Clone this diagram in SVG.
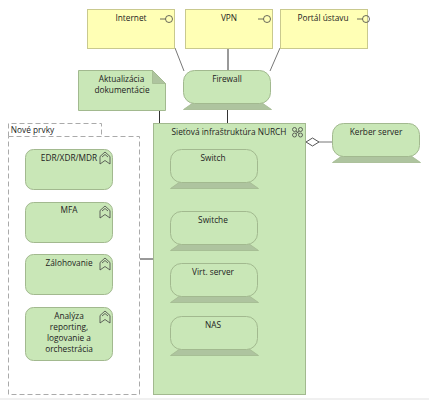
<svg xmlns="http://www.w3.org/2000/svg" width="429" height="400" viewBox="0 0 429 400">
<style>
text{font-family:"Open Sans","Noto Sans","Liberation Sans",sans-serif;font-size:8.300px;fill:#222;text-anchor:middle}
.y{fill:#ffffb5;stroke:#c9c98e;stroke-width:1}
.g{fill:#c9e7b7;stroke:#a2b98f;stroke-width:1}
.t{fill:#aec49f;stroke:#a2b98f;stroke-width:.8}
.i{fill:none;stroke:#444;stroke-width:.8}
.c{fill:none;stroke:#333;stroke-width:1}
.d{fill:none;stroke:#aaa;stroke-width:1;stroke-dasharray:5 3}
</style>
<defs>
<g id="iface"><path class="i" d="M0 0h5.500"/><circle class="i" cx="9" cy="0" r="3.500"/></g>
<g id="chev"><path class="i" d="M0 4.500L5 0L10 4.500V12L5 8.500L0 12Z"/><path class="i" d="M2 5L5 2.500L8 5"/></g>
<g id="dev"><path class="t" d="M10 32H78L88 39H0Z"/><rect class="g" x="0" y="0" width="87" height="33" rx="11"/></g>
</defs>
<rect width="429" height="400" fill="#fff"/>
<rect y="398" width="429" height="2" fill="#f0f0f0"/>
<g id="connectors">
<path d="M175 48L184 71" stroke="#777" stroke-width="1" fill="none"/>
<path d="M228 48V70" stroke="#999" stroke-width="2" fill="none"/>
<path d="M280 48L270 71" stroke="#777" stroke-width="1" fill="none"/>
<path class="c" d="M159.500 110V123"/>
<path class="c" d="M227.500 110V123"/>
<path class="c" d="M140 259H153"/>
<path d="M319 142H332" stroke="#777" stroke-width="1" fill="none"/>
<path d="M306 142L312.500 138L319 142L312.500 146Z" fill="#fff" stroke="#555" stroke-width="1"/>
</g>
<g id="internet"><rect class="y" x="87.500" y="9.500" width="87" height="39"/><use href="#iface" x="160" y="19"/><text x="131" y="20.500">Internet</text></g>
<g id="vpn"><rect class="y" x="185.500" y="9.500" width="87" height="39"/><use href="#iface" x="258" y="19"/><text x="229" y="20.500">VPN</text></g>
<g id="portal"><rect class="y" x="280.500" y="9.500" width="87" height="39"/><use href="#iface" x="357" y="19"/><text x="323" y="20.500">Portál ústavu</text></g>
<g id="dokumentacia"><path class="g" d="M78.500 70.500H152.500L165.500 83.500V110.500H78.500Z"/><path class="t" d="M152.500 70.500V83.500H165.500Z"/><text x="121.500" y="82">Aktualizácia</text><text x="122" y="93">dokumentácie</text></g>
<g id="firewall"><use href="#dev" x="183.500" y="70.500"/><text x="227" y="82">Firewall</text></g>
<g id="nove-prvky"><path class="d" d="M8.500 136.500V123.500H101.500V136.500"/><rect class="d" x="8.500" y="136.500" width="131" height="258"/><text x="32.500" y="133">Nové prvky</text></g>
<g id="edr"><rect class="g" x="25.500" y="149.500" width="87" height="40" rx="8"/><use href="#chev" x="100" y="152"/><text x="69" y="161">EDR/XDR/MDR</text></g>
<g id="mfa"><rect class="g" x="25.500" y="202.500" width="87" height="40" rx="8"/><use href="#chev" x="100" y="206"/><text x="69" y="213">MFA</text></g>
<g id="zalohovanie"><rect class="g" x="25.500" y="254.500" width="87" height="40" rx="8"/><use href="#chev" x="100" y="258"/><text x="69" y="266">Zálohovanie</text></g>
<g id="analyza"><rect class="g" x="25.500" y="307.500" width="87" height="53" rx="8"/><use href="#chev" x="100" y="311"/><text x="69" y="318.500">Analýza</text><text x="69" y="329.500">reporting,</text><text x="69" y="340.500">logovanie a</text><text x="69" y="351.500">orchestrácia</text></g>
<g id="sietova"><rect class="g" x="153.500" y="123.500" width="152" height="271"/><text x="229" y="135">Sieťová infraštruktúra NURCH</text>
<circle class="i" cx="294.500" cy="129.500" r="2"/><circle class="i" cx="300.500" cy="129.500" r="2"/><circle class="i" cx="294.500" cy="135" r="2"/><circle class="i" cx="300.500" cy="135" r="2"/><path class="i" d="M296 131L299 133.500M299 131L296 133.500"/></g>
<g id="switch"><use href="#dev" x="170.500" y="149.500"/><text x="213" y="161">Switch</text></g>
<g id="switche"><use href="#dev" x="170.500" y="211.500"/><text x="213" y="223">Switche</text></g>
<g id="virt"><use href="#dev" x="170.500" y="263.500"/><text x="213" y="275">Virt. server</text></g>
<g id="nas"><use href="#dev" x="170.500" y="316.500"/><text x="213" y="328">NAS</text></g>
<g id="kerber"><use href="#dev" x="332.500" y="123.500"/><text x="376" y="135">Kerber server</text></g>
</svg>
